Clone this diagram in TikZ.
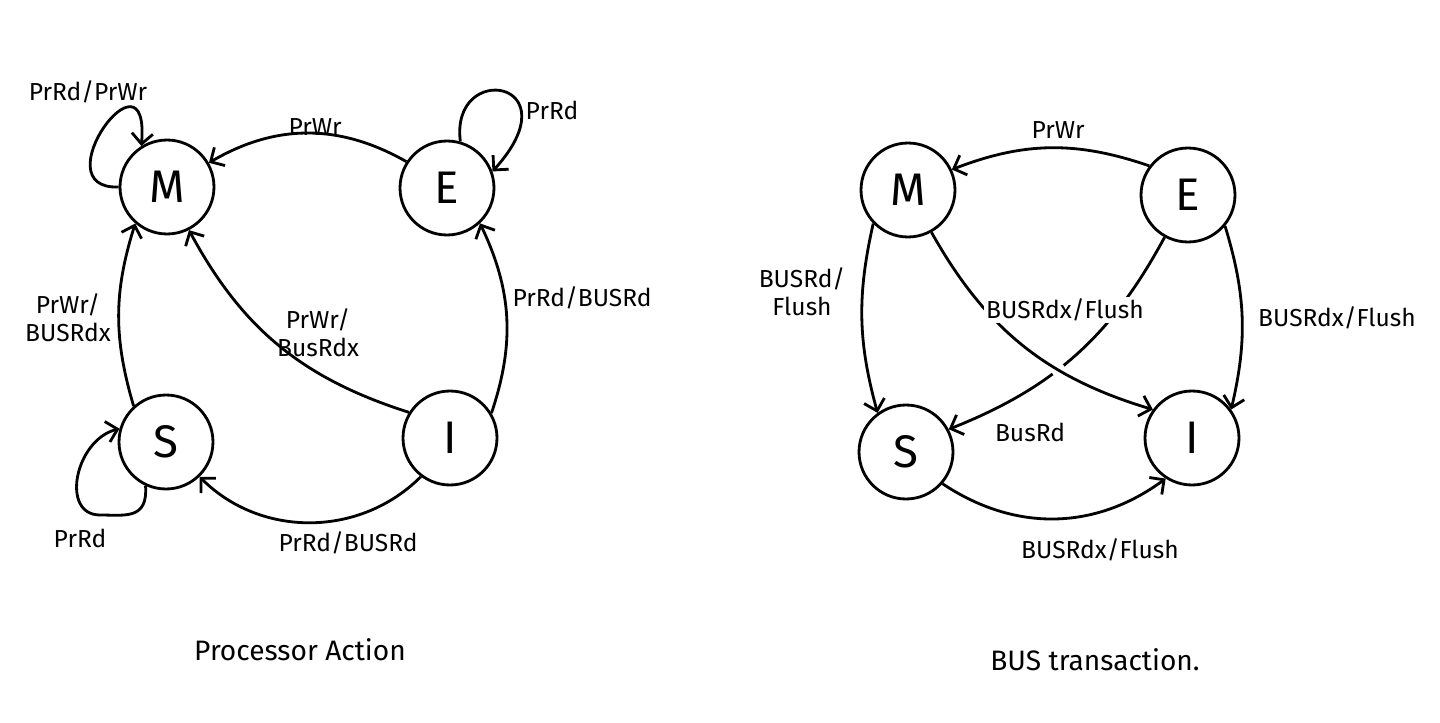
\documentclass[tikz,border=0pt]{standalone}
\usepackage{fontspec}
\setmainfont{Fira Sans}
\usetikzlibrary{arrows.meta,intersections}
\tikzset{
    St/.style={circle,draw,line width=1.6pt,minimum size=1.88cm,inner sep=0pt,font=\fontsize{26}{30}\selectfont},
    Lb/.style={font=\fontsize{14}{16}\selectfont,align=center,inner sep=1pt},
    Tt/.style={font=\fontsize{16}{18}\selectfont},
    Tr/.style={line width=1.6pt,-{Straight Barb[length=6pt,width=12pt]}},
}
\begin{document}
\begin{tikzpicture}[x=0.02cm,y=0.02cm]
    \useasboundingbox (0,0) rectangle (1440,-723);

    % Processor action
    \node[St] (M1) at (167,-187) {M};
    \node[St] (E1) at (447,-188) {E};
    \node[St] (S1) at (166,-442) {S};
    \node[St] (I1) at (450,-438) {I};

    \draw[Tr] (E1.147) to[bend right=30] (M1.30);
    \draw[Tr] (S1.132) to[bend left=17] (M1.229);
    \draw[Tr] (I1.148) to[bend left=22] (M1.297);
    \draw[Tr] (I1.31) to[bend right=22] (E1.313);
    \draw[Tr] (I1.233) to[bend left=45] (S1.314);
    \draw[Tr] (M1.180) .. controls (40,-190) and (150,-40) .. (M1.122);
    \draw[Tr] (E1.74) .. controls (450,-60) and (575,-80) .. (E1.20);
    \draw[Tr] (S1.245) .. controls (148,-520) and (125,-515) .. (100,-515)
        .. controls (60,-515) and (75,-440) .. (S1.164);

    \node[Lb] (l1) at (88,-92) {PrRd/PrWr};
    \node[Lb] (l2) at (552,-110) {PrRd};
    \node[Lb] (l3) at (315,-127) {PrWr};
    \node[Lb] (l4) at (68,-318) {PrWr/\\BUSRdx};
    \node[Lb] (l5) at (318,-333) {PrWr/\\BusRdx};
    \node[Lb] (l6) at (582,-298) {PrRd/BUSRd};
    \node[Lb] (l7) at (348,-543) {PrRd/BUSRd};
    \node[Lb] (l8) at (80,-538) {PrRd};
    \node[Tt] (t1) at (300,-650) {Processor Action};

    % Bus transaction
    \node[St] (M2) at (908,-190) {M};
    \node[St] (E2) at (1188,-195) {E};
    \node[St] (S2) at (906,-452) {S};
    \node[St] (I2) at (1192,-438) {I};

    \draw[Tr] (E2.143) to[bend right=20] (M2.25);
    \draw[Tr] (M2.224) to[bend right=14] (S2.126);
    \draw[Tr,name path=es] (E2.241) to[bend left=20] (S2.28);
    \path[name path=mi] (M2.299) to[bend right=22] (I2.144);
    \fill[white,name intersections={of=es and mi}] (intersection-1) circle (7);
    \draw[Tr] (M2.299) to[bend right=22] (I2.144);
    \draw[Tr] (E2.320) to[bend left=15] (I2.36);
    \draw[Tr] (S2.319) to[bend right=35] (I2.237);

    \node[Lb] (r1) at (1058,-130) {PrWr};
    \node[Lb] (r2) at (802,-292) {BUSRd/\\Flush};
    \node[Lb,fill=white] (r3) at (1065,-310) {BUSRdx/Flush};
    \node[Lb] (r4) at (1337,-318) {BUSRdx/Flush};
    \node[Lb] (r5) at (1030,-432) {BusRd};
    \node[Lb] (r6) at (1100,-550) {BUSRdx/Flush};
    \node[Tt] (t2) at (1095,-660) {BUS transaction.};
\end{tikzpicture}
\end{document}
